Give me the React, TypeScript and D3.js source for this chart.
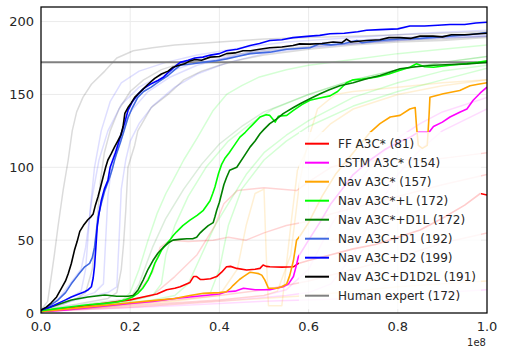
import React from 'react';
import * as d3 from 'd3';

type Pt = [number, number];

// x in units of 1e8 steps, y = reward
const ffA3C: Pt[] = [[0,1.5],[0.05,3],[0.1,5],[0.15,7],[0.2,9],[0.229,11],[0.26,13],[0.282,16],[0.3,17],[0.312,18],[0.334,21],[0.342,25],[0.349,25],[0.357,23],[0.364,23],[0.38,23.5],[0.394,25],[0.405,28],[0.416,31.7],[0.425,32],[0.439,30.6],[0.461,29.5],[0.48,30],[0.491,30.6],[0.498,32.9],[0.505,32],[0.513,31.7],[0.54,31.5],[0.566,31.7],[0.577,34],[0.6,36],[0.65,40],[0.7,44],[0.75,47],[0.8,52],[0.85,57],[0.9,65],[0.95,74],[0.985,82],[1.0,81]];
const lstmA3C: Pt[] = [[0,1],[0.05,2],[0.1,3.5],[0.15,5],[0.2,6.5],[0.25,8],[0.3,10],[0.35,11.5],[0.4,13],[0.416,14.6],[0.435,15],[0.454,17],[0.48,16],[0.513,16],[0.543,18],[0.555,20],[0.566,25],[0.572,32],[0.577,38.6],[0.59,45],[0.6,50],[0.625,62],[0.65,75],[0.675,85],[0.7,95],[0.738,105],[0.77,112],[0.8,117],[0.83,121],[0.845,124],[0.87,124],[0.88,128],[0.9,131],[0.917,134.5],[0.94,138],[0.955,140],[0.969,146],[0.985,151],[1.0,155]];
const navA3C: Pt[] = [[0,1],[0.05,2.5],[0.1,4],[0.15,5.5],[0.2,7],[0.25,8.5],[0.3,10],[0.334,12],[0.364,13.5],[0.4,14],[0.416,14.6],[0.425,17],[0.431,19],[0.445,23],[0.454,25],[0.469,28],[0.48,27.5],[0.488,27],[0.495,26],[0.502,22.6],[0.51,17],[0.528,17],[0.54,18],[0.551,20],[0.558,26],[0.566,36],[0.573,50],[0.581,53],[0.6,62],[0.63,80],[0.66,95],[0.7,110],[0.738,124],[0.76,130],[0.783,134.5],[0.805,135.6],[0.827,140],[0.839,141],[0.842,128],[0.846,115],[0.855,113],[0.866,115],[0.87,135],[0.872,148],[0.902,150.5],[0.939,152.7],[0.962,156],[0.98,157],[1.0,158]];
const navL: Pt[] = [[0,1.5],[0.035,3],[0.068,4.3],[0.1,5.5],[0.143,6.6],[0.17,7.5],[0.188,8.9],[0.205,11],[0.217,13.5],[0.228,17],[0.24,22.6],[0.248,28],[0.255,34],[0.262,38],[0.27,43],[0.28,47],[0.289,50],[0.296,53],[0.304,55.7],[0.318,60],[0.334,63.7],[0.35,67],[0.364,70.5],[0.372,74],[0.379,77],[0.385,82],[0.39,86.5],[0.398,95.7],[0.405,102],[0.412,106],[0.422,110],[0.431,114],[0.446,120.7],[0.458,124],[0.469,127.6],[0.48,131],[0.491,134.5],[0.505,136],[0.513,135.6],[0.52,133],[0.525,131],[0.532,135],[0.551,135.6],[0.566,139],[0.585,143],[0.603,146],[0.625,147.5],[0.648,149],[0.665,152],[0.685,158],[0.7,160],[0.72,160.5],[0.753,162],[0.78,164],[0.8,166],[0.827,168.7],[0.842,171],[0.86,169],[0.88,168.7],[0.917,170],[0.95,171],[0.98,172],[1.0,173]];
const navD1L: Pt[] = [[0,2],[0.03,5],[0.068,8.9],[0.105,11],[0.143,12.3],[0.17,11.5],[0.195,11.5],[0.207,12],[0.218,16],[0.229,22.6],[0.24,30],[0.251,36],[0.262,41],[0.274,45],[0.285,48],[0.296,50],[0.31,50.5],[0.327,51],[0.34,51],[0.349,52],[0.357,55],[0.364,57],[0.375,60],[0.386,62],[0.39,66],[0.394,70.5],[0.4,76],[0.405,82],[0.41,88],[0.416,93],[0.423,98],[0.439,100],[0.454,107],[0.469,114],[0.48,118],[0.491,123],[0.5,126],[0.513,130],[0.528,133],[0.543,136.8],[0.566,141],[0.581,143.6],[0.603,147],[0.626,150.5],[0.645,153],[0.67,156],[0.7,158],[0.73,160.7],[0.76,163],[0.78,165],[0.805,167.6],[0.84,169],[0.88,170],[0.92,170.5],[0.955,171],[1.0,172]];
const navD1: Pt[] = [[0,2],[0.02,5],[0.038,8.9],[0.055,14],[0.068,20],[0.083,26],[0.098,31.7],[0.109,34],[0.115,38],[0.12,45],[0.124,55],[0.128,66],[0.135,75],[0.143,84],[0.154,93],[0.16,99],[0.165,105],[0.169,109],[0.178,117],[0.187,126],[0.195,134],[0.205,141],[0.217,148],[0.23,152],[0.247,155],[0.265,159],[0.285,163],[0.3,167],[0.312,170],[0.34,171],[0.363,172],[0.39,173],[0.416,174.4],[0.44,176],[0.469,178],[0.513,179],[0.551,181],[0.603,182],[0.625,184.7],[0.65,184],[0.68,185],[0.708,187],[0.72,185.5],[0.76,187],[0.805,188],[0.85,188.5],[0.917,190],[0.96,191],[1.0,192.5]];
const navD2: Pt[] = [[0,2],[0.02,4],[0.038,6.6],[0.055,9],[0.068,11],[0.085,13],[0.098,14.6],[0.106,16],[0.113,18],[0.117,24],[0.12,32],[0.123,45],[0.126,59],[0.13,68],[0.135,77],[0.142,85],[0.15,91],[0.155,100],[0.161,105],[0.167,110],[0.173,116],[0.18,123],[0.188,131],[0.195,139],[0.205,145],[0.217,150],[0.23,154],[0.245,157],[0.262,159.6],[0.275,162],[0.285,165],[0.3,169],[0.312,172],[0.33,173.5],[0.345,175],[0.363,175.6],[0.38,177],[0.4,178],[0.416,180],[0.44,181],[0.469,183.6],[0.49,185],[0.513,187],[0.54,187.5],[0.565,189],[0.603,190],[0.625,190.5],[0.648,191.6],[0.68,192],[0.71,193],[0.73,194],[0.76,194.5],[0.8,195],[0.827,197],[0.86,197],[0.89,197.5],[0.917,198],[0.95,198],[0.975,199],[1.0,199.5]];
const navD1D2L: Pt[] = [[0,2],[0.012,4],[0.023,7],[0.035,11],[0.046,17],[0.055,22],[0.061,27],[0.068,34],[0.075,43],[0.081,49],[0.087,56],[0.095,60],[0.105,64],[0.112,66],[0.117,68],[0.122,74],[0.128,80],[0.134,87],[0.139,93],[0.145,100],[0.15,105],[0.157,109],[0.165,114],[0.172,118],[0.179,122],[0.184,128],[0.188,137],[0.195,141],[0.202,144],[0.21,148],[0.22,151],[0.23,154],[0.24,157],[0.255,161],[0.27,164],[0.285,166],[0.296,168.7],[0.31,170],[0.322,171],[0.334,173],[0.345,174],[0.36,173.5],[0.379,175.6],[0.4,176],[0.416,178],[0.435,178.5],[0.453,180],[0.47,180],[0.49,181],[0.513,182],[0.54,182.5],[0.565,183.6],[0.58,184.7],[0.603,184.5],[0.63,185],[0.655,186],[0.675,185.5],[0.685,188],[0.695,186],[0.73,187],[0.76,187.5],[0.78,189],[0.805,189],[0.83,188.5],[0.85,190],[0.879,190],[0.9,189.5],[0.92,191],[0.95,191],[0.975,191.5],[1.0,192]];
const humanExpert = 172;

// other seeds, drawn faint
const fadedGrey: Pt[][] = [
  [[0,2],[0.015,8],[0.023,25],[0.03,40],[0.038,59],[0.05,85],[0.061,105],[0.07,125],[0.08,138],[0.094,148],[0.113,157],[0.143,166],[0.17,175],[0.207,180],[0.25,182],[0.3,184],[0.4,186],[0.5,188],[0.6,189],[0.7,190],[0.8,191],[0.9,192],[1.0,193]],
  [[0,2],[0.05,6],[0.08,10],[0.1,14],[0.115,30],[0.125,60],[0.133,90],[0.142,110],[0.155,125],[0.175,140],[0.2,152],[0.23,160],[0.27,167],[0.32,172],[0.4,176],[0.5,180],[0.6,183],[0.7,185],[0.8,187],[0.9,188],[1.0,190]],
  [[0,2],[0.08,6],[0.15,10],[0.17,14],[0.18,30],[0.185,47],[0.19,70],[0.195,100],[0.21,115],[0.217,125],[0.247,141],[0.285,150],[0.32,160],[0.36,166],[0.4,170],[0.45,174],[0.5,177],[0.6,181],[0.7,184],[0.8,186],[0.9,187],[1.0,189]],
];
const fadedBlue: Pt[][] = [
  [[0,2],[0.05,8],[0.09,15],[0.1,30],[0.11,70],[0.12,100],[0.135,125],[0.155,145],[0.18,158],[0.22,166],[0.28,172],[0.35,177],[0.45,182],[0.55,186],[0.65,188],[0.75,190],[0.85,192],[1.0,194]],
  [[0,2],[0.06,8],[0.12,14],[0.14,20],[0.145,50],[0.15,80],[0.16,105],[0.175,120],[0.2,138],[0.24,152],[0.29,162],[0.35,170],[0.45,178],[0.55,183],[0.65,186],[0.8,189],[1.0,191]],
  [[0,2],[0.08,9],[0.15,14],[0.17,18],[0.175,50],[0.18,85],[0.19,105],[0.2,118],[0.22,130],[0.25,142],[0.3,155],[0.35,164],[0.42,172],[0.5,178],[0.6,182],[0.75,186],[0.9,189],[1.0,190]],
  [[0,2],[0.04,10],[0.07,22],[0.09,30],[0.1,45],[0.115,80],[0.13,105],[0.15,125],[0.18,143],[0.22,155],[0.28,165],[0.35,172],[0.45,177],[0.55,181],[0.7,185],[0.85,188],[1.0,190]],
];
const fadedGreen: Pt[][] = [
  [[0,1],[0.1,4],[0.18,8],[0.2,14],[0.22,30],[0.24,50],[0.26,68],[0.28,82],[0.296,91],[0.32,105],[0.35,120],[0.386,139],[0.416,150],[0.45,156],[0.49,162],[0.55,167],[0.6,170],[0.7,174],[0.8,178],[0.9,181],[1.0,184]],
  [[0,1],[0.1,4],[0.2,8],[0.25,12],[0.27,20],[0.28,40],[0.3,60],[0.33,80],[0.37,100],[0.42,118],[0.47,130],[0.52,140],[0.6,150],[0.7,160],[0.8,167],[0.9,172],[1.0,176]],
  [[0,1],[0.1,4],[0.25,9],[0.3,12],[0.33,20],[0.36,40],[0.39,60],[0.42,75],[0.46,95],[0.5,110],[0.55,122],[0.6,132],[0.7,148],[0.8,158],[0.9,166],[1.0,170]],
  [[0,1],[0.15,5],[0.3,10],[0.38,14],[0.4,30],[0.42,60],[0.45,85],[0.5,105],[0.55,118],[0.6,128],[0.7,142],[0.8,152],[0.9,160],[1.0,168]],
];
const fadedDarkGreen: Pt[][] = [
  [[0,1],[0.1,6],[0.2,10],[0.22,20],[0.25,45],[0.28,65],[0.32,85],[0.36,102],[0.4,116],[0.45,128],[0.5,138],[0.6,150],[0.7,160],[0.8,167],[0.9,172],[1.0,176]],
];
const fadedRed: Pt[][] = [
  [[0,1],[0.1,4],[0.18,8],[0.22,15],[0.25,28],[0.267,45],[0.29,50],[0.33,49],[0.386,50],[0.42,52],[0.46,50],[0.5,55],[0.55,60],[0.6,63],[0.65,68],[0.7,72],[0.8,80],[0.9,88],[1.0,95]],
  [[0,1],[0.15,6],[0.25,12],[0.3,25],[0.35,40],[0.39,60],[0.41,75],[0.44,84],[0.5,86],[0.573,84],[0.6,90],[0.65,100],[0.7,104],[0.8,105],[0.87,105],[0.95,108],[1.0,110]],
  [[0,1],[0.1,3],[0.2,6],[0.3,9],[0.4,12],[0.5,16],[0.6,22],[0.7,30],[0.8,38],[0.9,48],[1.0,55]],
];
const fadedPink: Pt[][] = [
  [[0,1],[0.2,5],[0.4,9],[0.5,12],[0.55,16],[0.6,30],[0.65,60],[0.7,85],[0.75,105],[0.8,120],[0.85,130],[0.9,138],[1.0,148]],
  [[0,1],[0.2,4],[0.4,8],[0.55,12],[0.6,14],[0.65,20],[0.7,40],[0.75,70],[0.8,95],[0.85,112],[0.9,125],[1.0,140]],
  [[0,1],[0.3,5],[0.5,8],[0.7,10],[0.8,12],[0.9,14],[1.0,16]],
];
const fadedOrange: Pt[][] = [
  [[0,1],[0.2,5],[0.4,9],[0.5,12],[0.53,15],[0.56,40],[0.58,90],[0.6,120],[0.62,140],[0.66,150],[0.7,152],[0.8,155],[0.9,158],[1.0,160]],
  [[0,1],[0.3,8],[0.4,12],[0.44,30],[0.46,60],[0.48,82],[0.5,85],[0.505,40],[0.51,5],[0.54,5],[0.56,60],[0.575,98],[0.6,115],[0.65,130],[0.7,140],[0.8,150],[0.9,156],[1.0,160]],
  [[0,1],[0.2,4],[0.4,8],[0.6,12],[0.7,15],[0.8,18],[0.9,20],[1.0,22]],
];

const legendLabels = ['FF A3C* (81)', 'LSTM A3C* (154)', 'Nav A3C* (157)', 'Nav A3C*+L (172)', 'Nav A3C*+D1L (172)', 'Nav A3C+D1 (192)', 'Nav A3C+D2 (199)', 'Nav A3C+D1D2L (191)', 'Human expert (172)'];
const colors = ['#ff0000', '#ff00ff', '#ffa500', '#00ff00', '#008000', '#4169e1', '#0000ff', '#000000', '#808080'];
const mainSeries = [ffA3C, lstmA3C, navA3C, navL, navD1L, navD1, navD2, navD1D2L];
const faded: [Pt[][], string, number][] = [
  [fadedRed, '#ff0000', 0.17],
  [fadedPink, '#ff00ff', 0.14],
  [fadedOrange, '#ffa500', 0.17],
  [fadedGreen, '#00ff00', 0.17],
  [fadedDarkGreen, '#008000', 0.14],
  [fadedBlue, '#0000ff', 0.13],
  [fadedGrey, '#000000', 0.14],
];
const xTicks = [0, 0.2, 0.4, 0.6, 0.8, 1.0];
const yTicks = [0, 50, 100, 150, 200];

const W = 505, H = 355;
const left = 41, right = 487, top = 7, bottom = 313;

export default function App() {
  const x = d3.scaleLinear().domain([0, 1]).range([left, right]);
  const y = d3.scaleLinear().domain([0, 210]).range([bottom, top]);
  const line = d3.line<Pt>().x(d => x(d[0])).y(d => y(d[1]));
  const font = 'DejaVu Sans, sans-serif';
  const txt = '#262626';

  return (
    <svg width={W} height={H} style={{ position: 'absolute', left: 0, top: 0, background: '#fff' }}>
      <defs>
        <clipPath id="plot"><rect x={left} y={top} width={right - left} height={bottom - top} /></clipPath>
      </defs>
      <rect x={0} y={0} width={W} height={H} fill="#fff" />
      {xTicks.slice(1, -1).map(t => (
        <line key={'gx' + t} x1={x(t)} x2={x(t)} y1={top} y2={bottom} stroke="#ebebeb" strokeWidth={1} />
      ))}
      {yTicks.slice(1).map(t => (
        <line key={'gy' + t} x1={left} x2={right} y1={y(t)} y2={y(t)} stroke="#ebebeb" strokeWidth={1} />
      ))}
      <g clipPath="url(#plot)" fill="none" strokeLinejoin="round">
        {faded.map(([runs, c, a], i) => runs.map((r, j) => (
          <path key={`f${i}-${j}`} d={line(r) || ''} stroke={c} strokeOpacity={a} strokeWidth={1.5} />
        )))}
        <line x1={x(0)} x2={x(1)} y1={y(humanExpert)} y2={y(humanExpert)} stroke={colors[8]} strokeWidth={2} />
        {mainSeries.map((s, i) => (
          <path key={'m' + i} d={line(s) || ''} stroke={colors[i]} strokeWidth={1.6} />
        ))}
      </g>
      <rect x={left} y={top} width={right - left} height={bottom - top} fill="none" stroke="#000" strokeWidth={1.25} />
      {yTicks.map(t => (
        <text key={'yt' + t} x={34} y={y(t)} dy="0.36em" textAnchor="end" fontFamily={font} fontSize={13} fill={txt}>{t}</text>
      ))}
      {xTicks.map(t => (
        <text key={'xt' + t} x={x(t)} y={331} textAnchor="middle" fontFamily={font} fontSize={13} fill={txt}>{t.toFixed(1)}</text>
      ))}
      <text x={486} y={346} textAnchor="end" fontFamily={font} fontSize={10} fill={txt}>1e8</text>
      <g>
        <rect x={299} y={132} width={182} height={177} fill="#fff" fillOpacity={0.8} />
        {legendLabels.map((l, i) => {
          const cy = 143.7 + i * 19;
          return (
            <g key={'lg' + i}>
              <line x1={305} x2={329} y1={cy} y2={cy} stroke={colors[i]} strokeWidth={2} />
              <text x={338} y={cy} dy="0.36em" fontFamily={font} fontSize={12} fill={txt}>{l}</text>
            </g>
          );
        })}
      </g>
    </svg>
  );
}
